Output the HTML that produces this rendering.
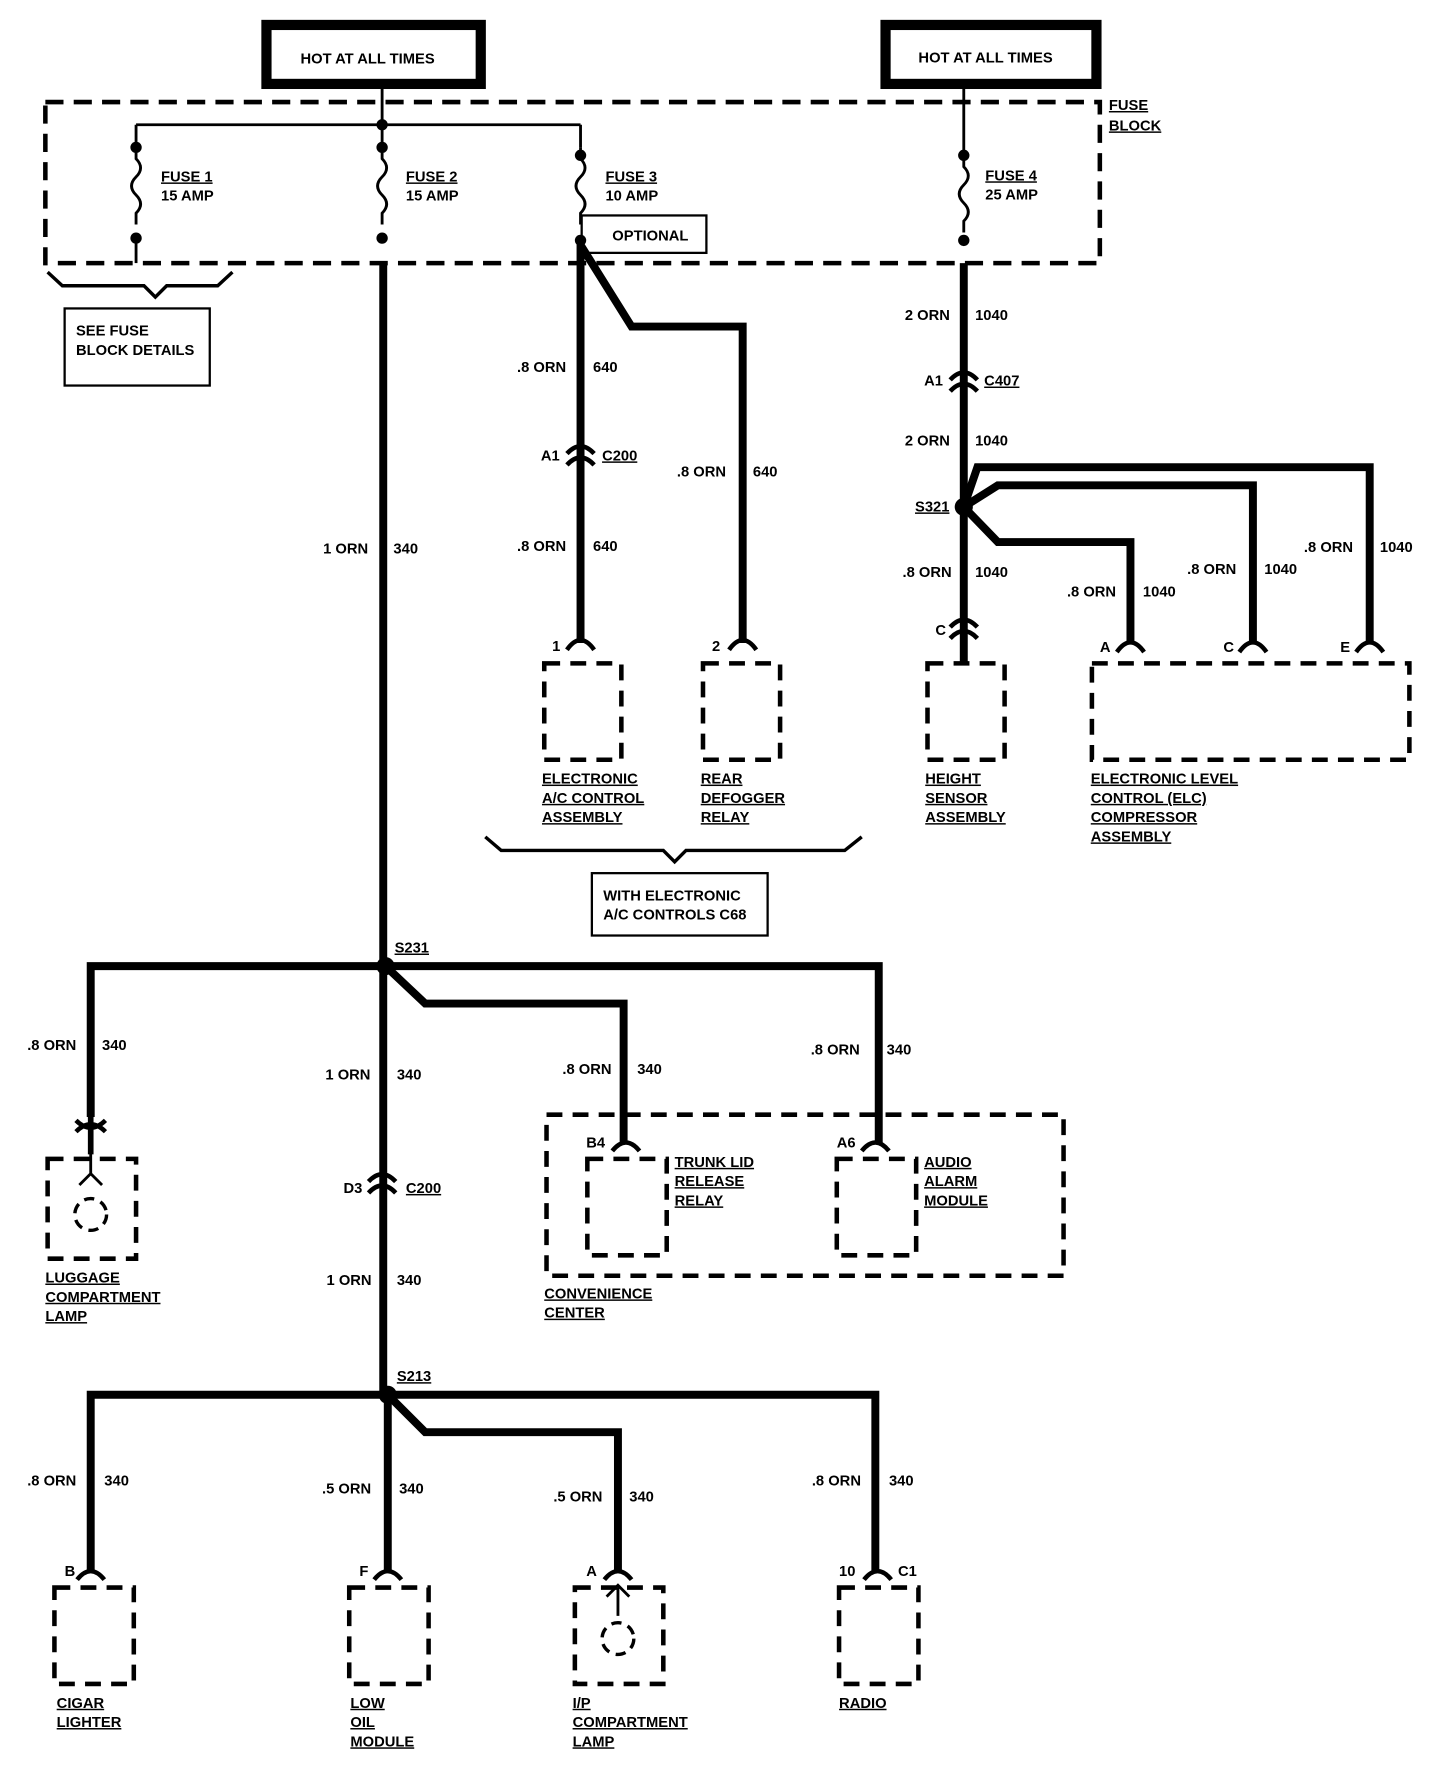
<!DOCTYPE html>
<html><head><style>
html,body{margin:0;padding:0;background:#fff;}
svg{display:block;}
text{font-family:"Liberation Sans",sans-serif;font-weight:bold;font-size:13px;fill:#000;}
.u{text-decoration:underline;}
</style></head><body>
<svg width="1440" height="1786" viewBox="0 0 1270 1575" preserveAspectRatio="none" xmlns="http://www.w3.org/2000/svg">
<defs>
<g id="fuse"><path d="M0,0 v10 q8,8 0,16 q-8,8 0,16 q8,8 0,16 v10" fill="none" stroke="#000" stroke-width="2.5"/></g>
</defs>
<g fill="none" stroke="#000">
<rect x="235" y="22" width="189" height="52" stroke-width="9"/>
<rect x="781" y="22" width="186" height="52" stroke-width="9"/>
<rect x="40" y="90" width="930" height="142" stroke-width="4" stroke-dasharray="16 9"/>
<path d="M337,78 V130 M120,110 H512 M120,110 V130 M512,110 V130 M850,78 V137" stroke-width="2.5"/>
<use href="#fuse" x="120" y="130"/><use href="#fuse" x="337" y="130"/><use href="#fuse" x="512" y="130"/><use href="#fuse" x="850" y="137"/>
<path d="M120,208 V232" stroke-width="2.5"/>
<rect x="513" y="190" width="110" height="33" stroke-width="2"/>
<path d="M42,240 L55,252 H127 L137,262 L147,252 H192 L205,240" stroke-width="3"/>
<rect x="57" y="272" width="128" height="68" stroke-width="2"/>
<path d="M338,232 V1230" stroke-width="7"/>
<path d="M342,1230 V1385" stroke-width="7"/>
<path d="M512,210 V567" stroke-width="7"/>
<path d="M512,216 L557,288 H655 V567" stroke-width="7"/>
<path d="M850,232 V585" stroke-width="7"/>
<path d="M850,447 L862,412 H1208 V567" stroke-width="7"/>
<path d="M850,447 L880,428 H1105 V567" stroke-width="7"/>
<path d="M850,447 L880,478 H997 V567" stroke-width="7"/>
<g stroke-width="4">
<path d="M500,573 Q512,556 524,573"/><path d="M643,573 Q655,556 667,573"/>
<path d="M985,575 Q997,558 1009,575"/><path d="M1093,575 Q1105,558 1117,575"/><path d="M1196,575 Q1208,558 1220,575"/>
<path d="M838,335 Q850,322 862,335 M838,345 Q850,332 862,345"/>
<path d="M500,400 Q512,387 524,400 M500,410 Q512,397 524,410"/>
<path d="M838,553 Q850,540 862,553 M838,563 Q850,550 862,563"/>
<path d="M325,1042 Q337,1029 349,1042 M325,1052 Q337,1039 349,1052"/>
<path d="M67,998 Q80,985 93,998 M67,988 Q80,1001 93,988"/>
<path d="M540,1015 Q552,1000 564,1015"/><path d="M760,1015 Q772,1000 784,1015"/>
<path d="M68,1393 Q80,1378 92,1393"/><path d="M330,1393 Q342,1378 354,1393"/><path d="M533,1393 Q545,1378 557,1393"/><path d="M762,1393 Q774,1378 786,1393"/>
</g>
<g stroke-width="4" stroke-dasharray="14 9">
<rect x="480" y="585" width="68" height="85"/>
<rect x="620" y="585" width="68" height="85"/>
<rect x="818" y="585" width="68" height="85"/>
<rect x="963" y="585" width="280" height="85"/>
<rect x="42" y="1022" width="78" height="88"/>
<rect x="482" y="983" width="456" height="142"/>
<rect x="518" y="1022" width="70" height="85"/>
<rect x="738" y="1022" width="70" height="85"/>
<rect x="48" y="1400" width="70" height="85"/>
<rect x="308" y="1400" width="70" height="85"/>
<rect x="507" y="1400" width="78" height="85"/>
<rect x="740" y="1400" width="70" height="85"/>
</g>
<circle cx="80" cy="1071" r="14" stroke-width="3" stroke-dasharray="9 6"/>
<circle cx="545" cy="1445" r="14" stroke-width="3" stroke-dasharray="9 6"/>
<path d="M80,1010 V1035 M70,1045 L80,1035 L90,1045 M545,1400 V1425 M535,1408 L545,1398 L555,1408" stroke-width="2.5"/>
<path d="M428,738 L442,750 H585 L595,760 L605,750 H745 L760,738" stroke-width="3"/>
<rect x="522" y="770" width="155" height="55" stroke-width="2"/>
<path d="M80,985 V852 H775 V1008" stroke-width="7"/>
<path d="M340,852 L375,885 H550 V1008" stroke-width="7"/>
<path d="M80,970 V1018" stroke-width="5"/>
<path d="M80,1385 V1230 H772 V1385" stroke-width="7"/>
<path d="M342,1230 L375,1263 H545 V1385" stroke-width="7"/>
</g>
<g fill="#000">
<circle cx="337" cy="110" r="5"/>
<circle cx="120" cy="130" r="5"/><circle cx="120" cy="210" r="5"/>
<circle cx="337" cy="130" r="5"/><circle cx="337" cy="210" r="5"/>
<circle cx="512" cy="137" r="5"/><circle cx="512" cy="212" r="5"/>
<circle cx="850" cy="137" r="5"/><circle cx="850" cy="212" r="5"/>
<circle cx="850" cy="447" r="8"/>
<circle cx="340" cy="852" r="8"/>
<circle cx="342" cy="1230" r="8"/>
</g>
<text x="265" y="56">HOT AT ALL TIMES</text>
<text x="810" y="55">HOT AT ALL TIMES</text>
<text x="978" y="97" class="u">FUSE</text><text x="978" y="115" class="u">BLOCK</text>
<text x="142" y="160" class="u">FUSE 1</text><text x="142" y="177">15 AMP</text>
<text x="358" y="160" class="u">FUSE 2</text><text x="358" y="177">15 AMP</text>
<text x="534" y="160" class="u">FUSE 3</text><text x="534" y="177">10 AMP</text>
<text x="869" y="159" class="u">FUSE 4</text><text x="869" y="176">25 AMP</text>
<text x="540" y="212">OPTIONAL</text>
<text x="67" y="296">SEE FUSE</text><text x="67" y="313">BLOCK DETAILS</text>
<text x="456" y="328">.8 ORN</text><text x="523" y="328">640</text>
<text x="477" y="406">A1</text><text x="531" y="406" class="u">C200</text>
<text x="456" y="486">.8 ORN</text><text x="523" y="486">640</text>
<text x="597" y="420">.8 ORN</text><text x="664" y="420">640</text>
<text x="285" y="488">1 ORN</text><text x="347" y="488">340</text>
<text x="798" y="282">2 ORN</text><text x="860" y="282">1040</text>
<text x="815" y="340">A1</text><text x="868" y="340" class="u">C407</text>
<text x="798" y="393">2 ORN</text><text x="860" y="393">1040</text>
<text x="807" y="451" class="u">S321</text>
<text x="796" y="509">.8 ORN</text><text x="860" y="509">1040</text>
<text x="825" y="560">C</text>
<text x="941" y="526">.8 ORN</text><text x="1008" y="526">1040</text>
<text x="1047" y="506">.8 ORN</text><text x="1115" y="506">1040</text>
<text x="1150" y="487">.8 ORN</text><text x="1217" y="487">1040</text>
<text x="487" y="574">1</text><text x="628" y="574">2</text>
<text x="970" y="575">A</text><text x="1079" y="575">C</text><text x="1182" y="575">E</text>
<text x="478" y="691" class="u">ELECTRONIC</text><text x="478" y="708" class="u">A/C CONTROL</text><text x="478" y="725" class="u">ASSEMBLY</text>
<text x="618" y="691" class="u">REAR</text><text x="618" y="708" class="u">DEFOGGER</text><text x="618" y="725" class="u">RELAY</text>
<text x="816" y="691" class="u">HEIGHT</text><text x="816" y="708" class="u">SENSOR</text><text x="816" y="725" class="u">ASSEMBLY</text>
<text x="962" y="691" class="u">ELECTRONIC LEVEL</text><text x="962" y="708" class="u">CONTROL (ELC)</text><text x="962" y="725" class="u">COMPRESSOR</text><text x="962" y="742" class="u">ASSEMBLY</text>
<text x="532" y="794">WITH ELECTRONIC</text><text x="532" y="811">A/C CONTROLS C68</text>
<text x="348" y="840" class="u">S231</text>
<text x="24" y="926">.8 ORN</text><text x="90" y="926">340</text>
<text x="287" y="952">1 ORN</text><text x="350" y="952">340</text>
<text x="496" y="947">.8 ORN</text><text x="562" y="947">340</text>
<text x="715" y="930">.8 ORN</text><text x="782" y="930">340</text>
<text x="517" y="1012">B4</text><text x="738" y="1012">A6</text>
<text x="595" y="1029" class="u">TRUNK LID</text><text x="595" y="1046" class="u">RELEASE</text><text x="595" y="1063" class="u">RELAY</text>
<text x="815" y="1029" class="u">AUDIO</text><text x="815" y="1046" class="u">ALARM</text><text x="815" y="1063" class="u">MODULE</text>
<text x="303" y="1052">D3</text><text x="358" y="1052" class="u">C200</text>
<text x="40" y="1131" class="u">LUGGAGE</text><text x="40" y="1148" class="u">COMPARTMENT</text><text x="40" y="1165" class="u">LAMP</text>
<text x="480" y="1145" class="u">CONVENIENCE</text><text x="480" y="1162" class="u">CENTER</text>
<text x="288" y="1133">1 ORN</text><text x="350" y="1133">340</text>
<text x="350" y="1218" class="u">S213</text>
<text x="24" y="1310">.8 ORN</text><text x="92" y="1310">340</text>
<text x="284" y="1317">.5 ORN</text><text x="352" y="1317">340</text>
<text x="488" y="1324">.5 ORN</text><text x="555" y="1324">340</text>
<text x="716" y="1310">.8 ORN</text><text x="784" y="1310">340</text>
<text x="57" y="1390">B</text><text x="317" y="1390">F</text><text x="517" y="1390">A</text><text x="740" y="1390">10</text><text x="792" y="1390">C1</text>
<text x="50" y="1506" class="u">CIGAR</text><text x="50" y="1523" class="u">LIGHTER</text>
<text x="309" y="1506" class="u">LOW</text><text x="309" y="1523" class="u">OIL</text><text x="309" y="1540" class="u">MODULE</text>
<text x="505" y="1506" class="u">I/P</text><text x="505" y="1523" class="u">COMPARTMENT</text><text x="505" y="1540" class="u">LAMP</text>
<text x="740" y="1506" class="u">RADIO</text>
</svg>
</body></html>
